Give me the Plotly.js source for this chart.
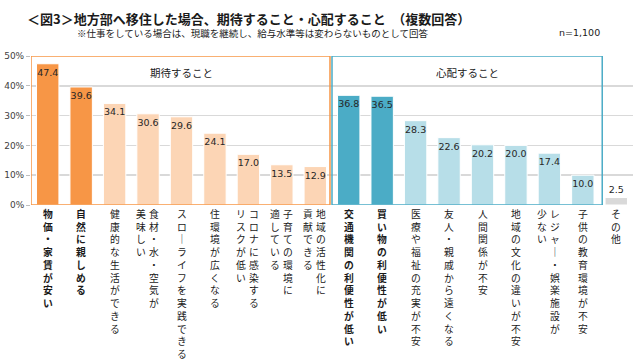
<!DOCTYPE html>
<html>
<head>
<meta charset="utf-8">
<script src="https://cdn.plot.ly/plotly-3.0.1.min.js"></script>
<style>html,body{margin:0;padding:0;background:#fff;}#chart{width:640px;height:360px;}</style>
</head>
<body>
<div id="chart"></div>
<script>
const categories = ["物価・家賃が安い", "自然に親しめる", "健康的な生活ができる", "食材・水・空気が美味しい", "スローライフを実践できる", "住環境が広くなる", "コロナに感染するリスクが低い", "子育ての環境に適している", "地域の活性化に貢献できる", "交通機関の利便性が低い", "買い物の利便性が低い", "医療や福祉の充実が不安", "友人・親戚から遠くなる", "人間関係が不安", "地域の文化の違いが不安", "レジャー・娯楽施設が少ない", "子供の教育環境が不安", "その他"];
const values = [47.4, 39.6, 34.1, 30.6, 29.6, 24.1, 17.0, 13.5, 12.9, 36.8, 36.5, 28.3, 22.6, 20.2, 20.0, 17.4, 10.0, 2.5];
// vertical label columns (read right to left)
const labelColumns = [["物価・家賃が安い"], ["自然に親しめる"], ["健康的な生活ができる"], ["食材・水・空気が", "美味しい"], ["スローライフを実践できる"], ["住環境が広くなる"], ["コロナに感染する", "リスクが低い"], ["子育ての環境に", "適している"], ["地域の活性化に", "貢献できる"], ["交通機関の利便性が低い"], ["買い物の利便性が低い"], ["医療や福祉の充実が不安"], ["友人・親戚から遠くなる"], ["人間関係が不安"], ["地域の文化の違いが不安"], ["レジャー・娯楽施設が", "少ない"], ["子供の教育環境が不安"], ["その他"]];
const groupLabels = ["期待すること", "心配すること"];
const yTickVals = [0, 10, 20, 30, 40, 50];
const yTickText = ["0%", "10%", "20%", "30%", "40%", "50%"];

const barColors = ["#F79646", "#F79646", "#FCD5B5", "#FCD5B5", "#FCD5B5", "#FCD5B5", "#FCD5B5", "#FCD5B5", "#FCD5B5",
  "#4BACC6", "#4BACC6", "#B7DEE8", "#B7DEE8", "#B7DEE8", "#B7DEE8", "#B7DEE8", "#B7DEE8", "#D9D9D9"];
const boldIdx = [0, 1, 9, 10];

const jp = '"Noto Sans CJK JP", "Noto Sans", sans-serif';
const num = '"DejaVu Sans", sans-serif';

const textPos = values.map((v, i) => i === values.length - 1 ? 'outside' : 'inside');

const trace = {
  type: 'bar',
  x: categories,
  y: values,
  marker: {color: barColors, line: {color: '#ffffff', width: 1}},
  text: values.map(v => v.toFixed(1)),
  texttemplate: '%{text}',
  textposition: textPos,
  insidetextanchor: 'end',
  textangle: 0,
  constraintext: 'none',
  cliponaxis: false,
  textfont: {family: num, size: 9.5, color: '#262626'},
  hoverinfo: 'skip'
};

const annotations = [];
labelColumns.forEach((cols, i) => {
  const n = cols.length;
  cols.forEach((c, j) => {
    const shift = n === 1 ? 0 : (j === 0 ? 6.5 : -6.5) - 0.5;
    const txt = Array.from(c.replace(/ー/g, '｜')).join('<br>');
    annotations.push({
      x: i, y: 0, xref: 'x', yref: 'y',
      xanchor: 'center', yanchor: 'top',
      xshift: shift, yshift: 0,
      showarrow: false,
      text: boldIdx.includes(i) ? '<b>' + txt + '</b>' : txt,
      font: {family: jp, size: 9.8, color: '#1a1a1a'},
      align: 'center'
    });
  });
});
annotations.push({x: 4, y: 44.6, xref: 'x', yref: 'y', showarrow: false, text: groupLabels[0],
  font: {family: jp, size: 10.5, color: '#1a1a1a'}, xanchor: 'center', yanchor: 'middle'});
annotations.push({x: 12.55, y: 44.6, xref: 'x', yref: 'y', showarrow: false, text: groupLabels[1],
  font: {family: jp, size: 10.5, color: '#1a1a1a'}, xanchor: 'center', yanchor: 'middle'});
annotations.push({x: 75 / 640, y: 1 - 33 / 360, xref: 'paper', yref: 'paper', showarrow: false,
  text: '※仕事をしている場合は、現職を継続し、給与水準等は変わらないものとして回答',
  font: {family: jp, size: 9.5, color: '#1a1a1a'}, xanchor: 'left', yanchor: 'middle'});
annotations.push({x: 602 / 640, y: 1 - 32 / 360, xref: 'paper', yref: 'paper', showarrow: false,
  text: 'n=1,100', font: {family: num, size: 9.5, color: '#1a1a1a'}, xanchor: 'right', yanchor: 'middle'});

const layout = {
  width: 640, height: 360,
  margin: {l: 31, r: 7, t: 56, b: 155, pad: 0},
  paper_bgcolor: '#ffffff', plot_bgcolor: '#ffffff',
  showlegend: false,
  bargap: 0.33,
  title: {
    text: '<b>＜図3＞地方部へ移住した場合、期待すること・心配すること　（複数回答）</b>',
    x: 27 / 640, xref: 'container', xanchor: 'left',
    y: 1 - 19 / 360, yref: 'container', yanchor: 'middle',
    font: {family: jp, size: 13, color: '#1a1a1a'}
  },
  xaxis: {
    type: 'category', range: [-0.5, 17.5], showticklabels: false, ticks: '',
    showgrid: false, zeroline: false, showline: false, fixedrange: true
  },
  yaxis: {
    range: [0, 50], tickvals: yTickVals, ticktext: yTickText,
    tickfont: {family: num, size: 9, color: '#404040'},
    ticks: 'outside', ticklen: 4, tickcolor: '#BFBFBF', tickwidth: 1,
    showgrid: true, gridcolor: '#D9D9D9', gridwidth: 1.5,
    zeroline: false, showline: false, fixedrange: true
  },
  shapes: [
    {type: 'rect', xref: 'x', yref: 'y', x0: -0.5, x1: 8.44, y0: 0, y1: 50,
      line: {color: '#F79646', width: 1.5}, fillcolor: 'rgba(0,0,0,0)', layer: 'above'},
    {type: 'rect', xref: 'x', yref: 'y', x0: 8.5, x1: 16.58, y0: 0, y1: 50,
      line: {color: '#4BACC6', width: 1.5}, fillcolor: 'rgba(0,0,0,0)', layer: 'above'}
  ],
  annotations: annotations
};

// annotations given in container pixels -> convert to plot-area paper coords
const pl = 31, pw = 640 - 31 - 7, pt = 56, ph = 360 - 56 - 155;
layout.annotations.forEach(a => {
  if (a.xref === 'paper') {
    const px = a.x * 640, py = (1 - a.y) * 360;
    a.x = (px - pl) / pw;
    a.y = 1 - (py - pt) / ph;
  }
});

Plotly.newPlot('chart', [trace], layout, {displayModeBar: false, staticPlot: true});
</script>
</body>
</html>
